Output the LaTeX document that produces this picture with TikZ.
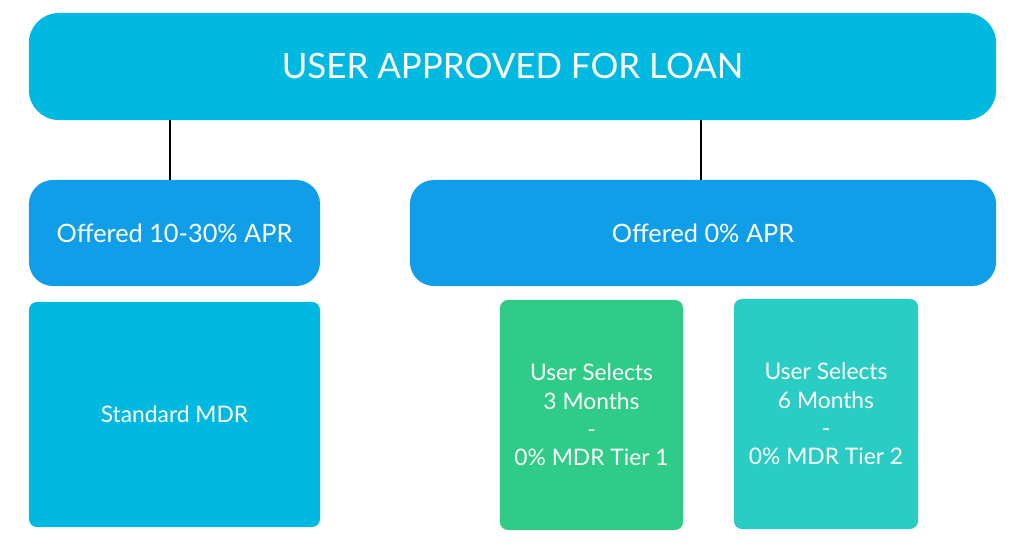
\documentclass[tikz,border=0pt]{standalone}
\usepackage{fontspec}
\setmainfont{Lato}
\usepackage{xcolor}
\usetikzlibrary{positioning}
\definecolor{skyblue}{RGB}{0,185,224}
\definecolor{midblue}{RGB}{16,158,232}
\definecolor{mdrgreen}{RGB}{46,204,135}
\definecolor{mdrteal}{RGB}{42,205,195}

\begin{document}
\begin{tikzpicture}[
  x=0.025cm, y=-0.025cm,
  head/.style={fill=skyblue,rounded corners=0.75cm,minimum width=24.175cm,minimum height=2.675cm,text=white,font=\fontsize{24.8}{28}\selectfont},
  offer/.style={fill=midblue,rounded corners=0.6cm,minimum height=2.65cm,text=white,font=\fontsize{18}{20}\selectfont},
  tier/.style={rounded corners=0.2cm,align=center,text=white,font=\fontsize{16.2}{20.2}\selectfont},
  link/.style={line width=1.6pt,black},
]
  \useasboundingbox (0,0) rectangle (1024,551);
  \node[head] (approved) at (512.5,66.5) {USER APPROVED FOR LOAN};
  \node[offer,minimum width=7.275cm] (apr) at (174.5,233) {Offered 10-30\% APR};
  \node[offer,minimum width=14.65cm] (zero) at (703,233) {Offered 0\% APR};
  \node[tier,fill=skyblue,minimum width=7.275cm,minimum height=5.625cm] (std) at (174.5,414.5) {Standard MDR};
  \node[tier,fill=mdrgreen,minimum width=4.575cm,minimum height=5.75cm] (three) at (591.5,415) {User Selects\\3 Months\\-\\0\% MDR Tier 1};
  \node[tier,fill=mdrteal,minimum width=4.6cm,minimum height=5.75cm] (six) at (826,414) {User Selects\\6 Months\\-\\0\% MDR Tier 2};

  \draw[link] ([xshift=-0.11cm]approved.south -| apr.north) -- ([xshift=-0.11cm]apr.north);
  \draw[link] ([xshift=-0.05cm]approved.south -| zero.north) -- ([xshift=-0.05cm]zero.north);
\end{tikzpicture}
\end{document}
